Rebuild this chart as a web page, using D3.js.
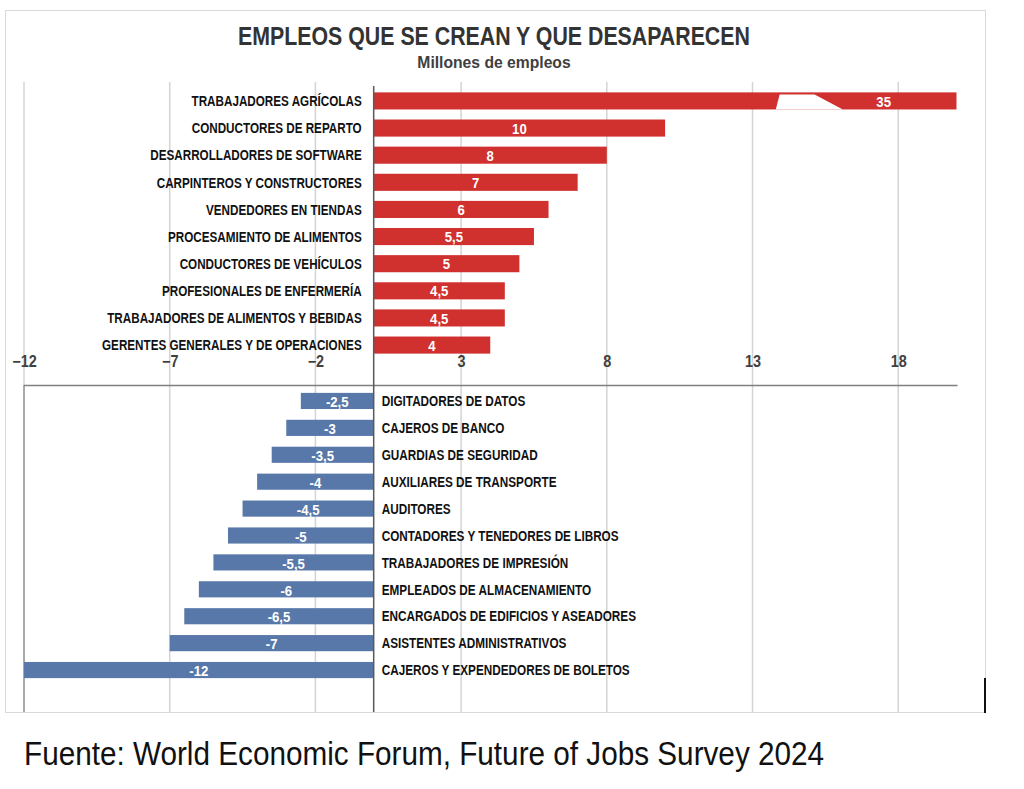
<!DOCTYPE html>
<html>
<head>
<meta charset="utf-8">
<script src="https://cdn.jsdelivr.net/npm/d3@7"></script>
<style>
  body { margin: 0; background: #fff; }
  text { font-family: "Liberation Sans", Arial, sans-serif; }
</style>
</head>
<body>
<svg id="chart"></svg>
<script>
// empleos que se crean (millones)
const createdJobs = [
  "TRABAJADORES AGRÍCOLAS",
  "CONDUCTORES DE REPARTO",
  "DESARROLLADORES DE SOFTWARE",
  "CARPINTEROS Y CONSTRUCTORES",
  "VENDEDORES EN TIENDAS",
  "PROCESAMIENTO DE ALIMENTOS",
  "CONDUCTORES DE VEHÍCULOS",
  "PROFESIONALES DE ENFERMERÍA",
  "TRABAJADORES DE ALIMENTOS Y BEBIDAS",
  "GERENTES GENERALES Y DE OPERACIONES"
];
const createdValues = [35, 10, 8, 7, 6, 5.5, 5, 4.5, 4.5, 4];

// empleos que desaparecen (millones)
const lostJobs = [
  "DIGITADORES DE DATOS",
  "CAJEROS DE BANCO",
  "GUARDIAS DE SEGURIDAD",
  "AUXILIARES DE TRANSPORTE",
  "AUDITORES",
  "CONTADORES Y TENEDORES DE LIBROS",
  "TRABAJADORES DE IMPRESIÓN",
  "EMPLEADOS DE ALMACENAMIENTO",
  "ENCARGADOS DE EDIFICIOS Y ASEADORES",
  "ASISTENTES ADMINISTRATIVOS",
  "CAJEROS Y EXPENDEDORES DE BOLETOS"
];
const lostValues = [-2.5, -3, -3.5, -4, -4.5, -5, -5.5, -6, -6.5, -7, -12];

const tickValues = [-12, -7, -2, 3, 8, 13, 18];
const axisMax = 20;   // la barra de 35 se corta aquí

const width = 1024, height = 789;
const red = "#d0312f", blue = "#5878a9";

// estrecha el texto (no hay fuente condensada instalada)
function squeeze(sel, k) {
  sel.each(function() {
    const w = this.getComputedTextLength();
    d3.select(this)
      .attr("textLength", w * k)
      .attr("lengthAdjust", "spacingAndGlyphs");
  });
}

const svg = d3.select("#chart")
  .attr("width", width)
  .attr("height", height);

svg.append("rect")
  .attr("width", width).attr("height", height)
  .attr("fill", "#fff");

// marco
svg.append("rect")
  .attr("x", 5.5).attr("y", 10.5)
  .attr("width", 980).attr("height", 702)
  .attr("fill", "none")
  .attr("stroke", "#d9d9d9");

const x = d3.scaleLinear()
  .domain([-12, axisMax])
  .range([24, 956.5]);

const yTop = d3.scaleBand()
  .domain(createdJobs)
  .range([87.5, 358.5])
  .paddingInner(0.37)
  .paddingOuter(0.18);

const yBottom = d3.scaleBand()
  .domain(lostJobs)
  .range([387.5, 683.5])
  .paddingInner(0.4)
  .paddingOuter(0.2);

// líneas de cuadrícula
svg.append("g")
  .selectAll("line")
  .data(tickValues)
  .join("line")
  .attr("x1", d => x(d)).attr("x2", d => x(d))
  .attr("y1", 82).attr("y2", 712)
  .attr("stroke", "#d4d4d4")
  .attr("stroke-width", 1.5);

// eje izquierdo del panel inferior
svg.append("line")
  .attr("x1", x(-12)).attr("x2", x(-12))
  .attr("y1", 385).attr("y2", 712)
  .attr("stroke", "#999")
  .attr("stroke-width", 1.5);

// eje horizontal
svg.append("line")
  .attr("x1", x(-12)).attr("x2", x(axisMax) + 1)
  .attr("y1", 385.5).attr("y2", 385.5)
  .attr("stroke", "#7f7f7f")
  .attr("stroke-width", 1.5);

// barras rojas
svg.append("g")
  .selectAll("rect")
  .data(createdValues)
  .join("rect")
  .attr("x", x(0))
  .attr("y", (d, i) => yTop(createdJobs[i]))
  .attr("width", d => x(Math.min(d, axisMax)) - x(0))
  .attr("height", yTop.bandwidth())
  .attr("fill", red);

// corte de la barra de 35
const b0 = yTop(createdJobs[0]);
const bh = yTop.bandwidth();
svg.append("polygon")
  .attr("points", [
    [x(13.93), b0 + 2],
    [x(15.13), b0 + 2],
    [x(16.1), b0 + bh],
    [x(13.8), b0 + bh]
  ].map(p => p.join(",")).join(" "))
  .attr("fill", "#fff");

// barras azules
svg.append("g")
  .selectAll("rect")
  .data(lostValues)
  .join("rect")
  .attr("x", d => x(d))
  .attr("y", (d, i) => yBottom(lostJobs[i]))
  .attr("width", d => x(0) - x(d))
  .attr("height", yBottom.bandwidth())
  .attr("fill", blue);

// línea del cero
svg.append("line")
  .attr("x1", x(0)).attr("x2", x(0))
  .attr("y1", 86).attr("y2", 712)
  .attr("stroke", "#595959")
  .attr("stroke-width", 1.5);

const fmt = v => String(v).replace(".", ",");

// etiquetas de valores
svg.append("g")
  .selectAll("text")
  .data(createdValues)
  .join("text")
  .attr("x", d => d > axisMax ? x(17.5) : (x(0) + x(d)) / 2)
  .attr("y", (d, i) => yTop(createdJobs[i]) + bh / 2)
  .attr("dy", "0.36em")
  .attr("text-anchor", "middle")
  .attr("fill", "#fff")
  .attr("font-weight", "bold")
  .attr("font-size", 15.5)
  .text(fmt)
  .call(squeeze, 0.85);

svg.append("g")
  .selectAll("text")
  .data(lostValues)
  .join("text")
  .attr("x", d => (x(0) + x(d)) / 2)
  .attr("y", (d, i) => yBottom(lostJobs[i]) + yBottom.bandwidth() / 2)
  .attr("dy", "0.4em")
  .attr("text-anchor", "middle")
  .attr("fill", "#fff")
  .attr("font-weight", "bold")
  .attr("font-size", 15.5)
  .text(fmt)
  .call(squeeze, 0.85);

// nombres de ocupaciones
svg.append("g")
  .selectAll("text")
  .data(createdJobs)
  .join("text")
  .attr("x", x(0) - 12)
  .attr("y", d => yTop(d) + bh / 2)
  .attr("dy", "0.36em")
  .attr("text-anchor", "end")
  .attr("fill", "#111")
  .attr("font-weight", "bold")
  .attr("font-size", 14.5)
  .text(d => d)
  .call(squeeze, 0.805);

svg.append("g")
  .selectAll("text")
  .data(lostJobs)
  .join("text")
  .attr("x", x(0) + 8)
  .attr("y", d => yBottom(d) + yBottom.bandwidth() / 2)
  .attr("dy", "0.36em")
  .attr("fill", "#111")
  .attr("font-weight", "bold")
  .attr("font-size", 14.5)
  .text(d => d)
  .call(squeeze, 0.81);

// marcas del eje
const axis = d3.axisBottom(x)
  .tickValues(tickValues)
  .tickSize(0)
  .tickPadding(0);

const axisG = svg.append("g")
  .attr("transform", "translate(0,356)")
  .call(axis);
axisG.select(".domain").remove();
axisG.selectAll("text")
  .attr("font-family", "Liberation Sans, Arial, sans-serif")
  .attr("font-size", 16)
  .attr("font-weight", "bold")
  .attr("fill", "#404040")
  .call(squeeze, 0.9);

// títulos
svg.append("text")
  .attr("x", 494).attr("y", 45)
  .attr("text-anchor", "middle")
  .attr("font-size", 26)
  .attr("font-weight", "bold")
  .attr("fill", "#333")
  .text("EMPLEOS QUE SE CREAN Y QUE DESAPARECEN")
  .call(squeeze, 0.82);

svg.append("text")
  .attr("x", 494).attr("y", 68)
  .attr("text-anchor", "middle")
  .attr("font-size", 16.5)
  .attr("font-weight", "bold")
  .attr("fill", "#404040")
  .text("Millones de empleos")
  .call(squeeze, 0.95);

// marca negra a la derecha
svg.append("line")
  .attr("x1", 985).attr("x2", 985)
  .attr("y1", 678).attr("y2", 713)
  .attr("stroke", "#111")
  .attr("stroke-width", 2);

// fuente
svg.append("text")
  .attr("x", 24).attr("y", 765)
  .attr("font-size", 33)
  .attr("fill", "#111")
  .text("Fuente: World Economic Forum, Future of Jobs Survey 2024")
  .call(squeeze, 0.9);
</script>
</body>
</html>
